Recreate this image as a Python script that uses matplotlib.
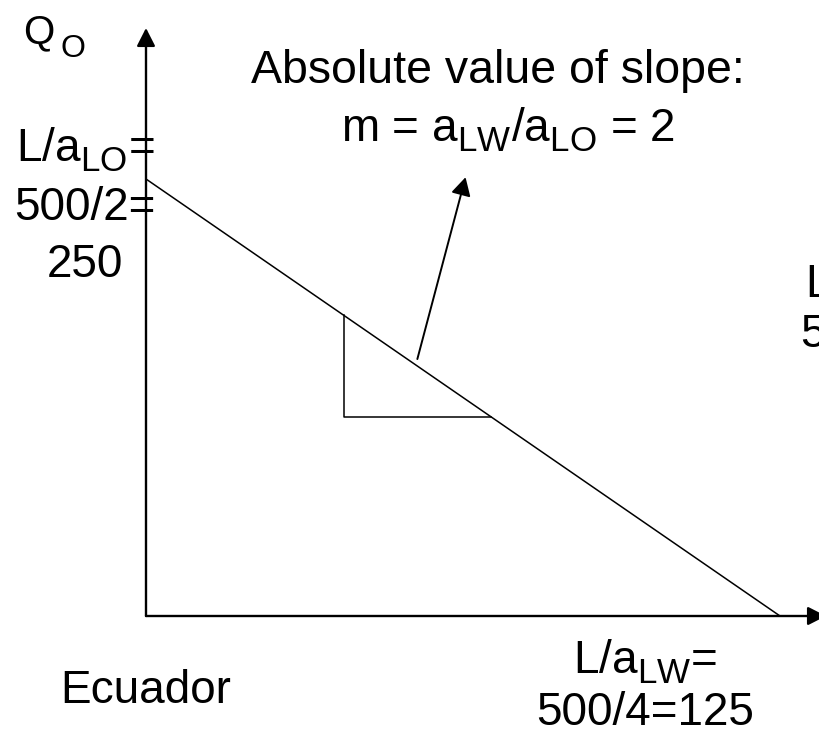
import numpy as np
import matplotlib.pyplot as plt
import matplotlib._mathtext as mathtext

plt.rcParams['font.family'] = ['Liberation Sans', 'DejaVu Sans']
# subscripts in the slide are a bit bigger and sit lower than mathtext's default
mathtext.SHRINK_FACTOR = 0.76
mathtext.FontConstantsBase.sub1 = 0.42

# Ecuador: labour endowment and unit labour requirements
L = 500
a_LO = 2
a_LW = 4
max_oil = L / a_LO      # 250
max_wheat = L / a_LW    # 125
slope = a_LW / a_LO     # 2

# run of the little slope triangle (wheat units)
tri_x = [39, 68]
# pointer from the line up to the slope note
arrow_tail = (53.5, 147)
arrow_head = (63, 251)

W, H = 819, 734
fig = plt.figure(figsize=(W / 100, H / 100), dpi=100)

# origin of the diagram in pixels, and where the intercepts land
ox, oy = 146, 616
px_x = max_wheat / (780 - ox)
px_y = max_oil / (oy - 179)

ax = fig.add_axes([ox / W, (H - oy) / H, (W - ox) / W, oy / H])
ax.set_xlim(0, (W - ox) * px_x)
ax.set_ylim(0, oy * px_y)
ax.axis('off')

# axes with arrow heads
axis_style = dict(arrowstyle='-|>,head_length=0.55,head_width=0.28', color='black',
                  lw=1.7, shrinkA=0, shrinkB=0, mutation_scale=20)
ax.annotate('', xy=(0, (oy - 28) * px_y), xytext=(0, 0), arrowprops=axis_style,
            annotation_clip=False)
ax.annotate('', xy=((826 - ox) * px_x, 0), xytext=(0, 0), arrowprops=axis_style,
            annotation_clip=False)

# production possibility frontier
ax.plot([0, max_wheat], [max_oil, 0], color='black', lw=1.1, solid_capstyle='butt')

# slope triangle
y_top = max_oil - slope * tri_x[0]
y_bot = max_oil - slope * tri_x[1]
ax.plot([tri_x[0], tri_x[0], tri_x[1]], [y_top, y_bot, y_bot], color='black', lw=1.1)

# pointer to the slope note
ax.annotate('', xy=arrow_head, xytext=arrow_tail,
            arrowprops=dict(arrowstyle='-|>,head_length=0.55,head_width=0.3', color='black',
                            lw=1.4, shrinkA=0, shrinkB=0, mutation_scale=20))


def ftext(x, y, s, size=33, **kw):
    # place text by pixel position, y measured from the top
    fig.text(x / W, 1 - y / H, s, fontsize=size, va='baseline', **kw)


# Q with a detached subscript O
ftext(23, 43, 'Q', size=29)
ftext(61, 57, 'O', size=23)

ftext(498, 83, 'Absolute value of slope:', size=33.5, ha='center')
ftext(508, 142, r'm = a$_{\mathregular{LW}}$/a$_{\mathregular{LO}}$ = 2', ha='center')

ftext(85, 162, r'L/a$_{\mathregular{LO}}$=', ha='center')
ftext(85, 220, '500/2=', ha='center')
ftext(85, 277, '250', ha='center')

ftext(645, 673, r'L/a$_{\mathregular{LW}}$=', ha='center')
ftext(645, 725, '500/4=125', ha='center')

ftext(60, 703, 'Ecuador')

# label of the neighbouring diagram, cut off at the right edge as on the slide
ftext(805, 297, r'L/a$_{\mathregular{LW}}$=')
ftext(800, 347, '500/4=125')

fig.savefig('out.png', dpi=100)
